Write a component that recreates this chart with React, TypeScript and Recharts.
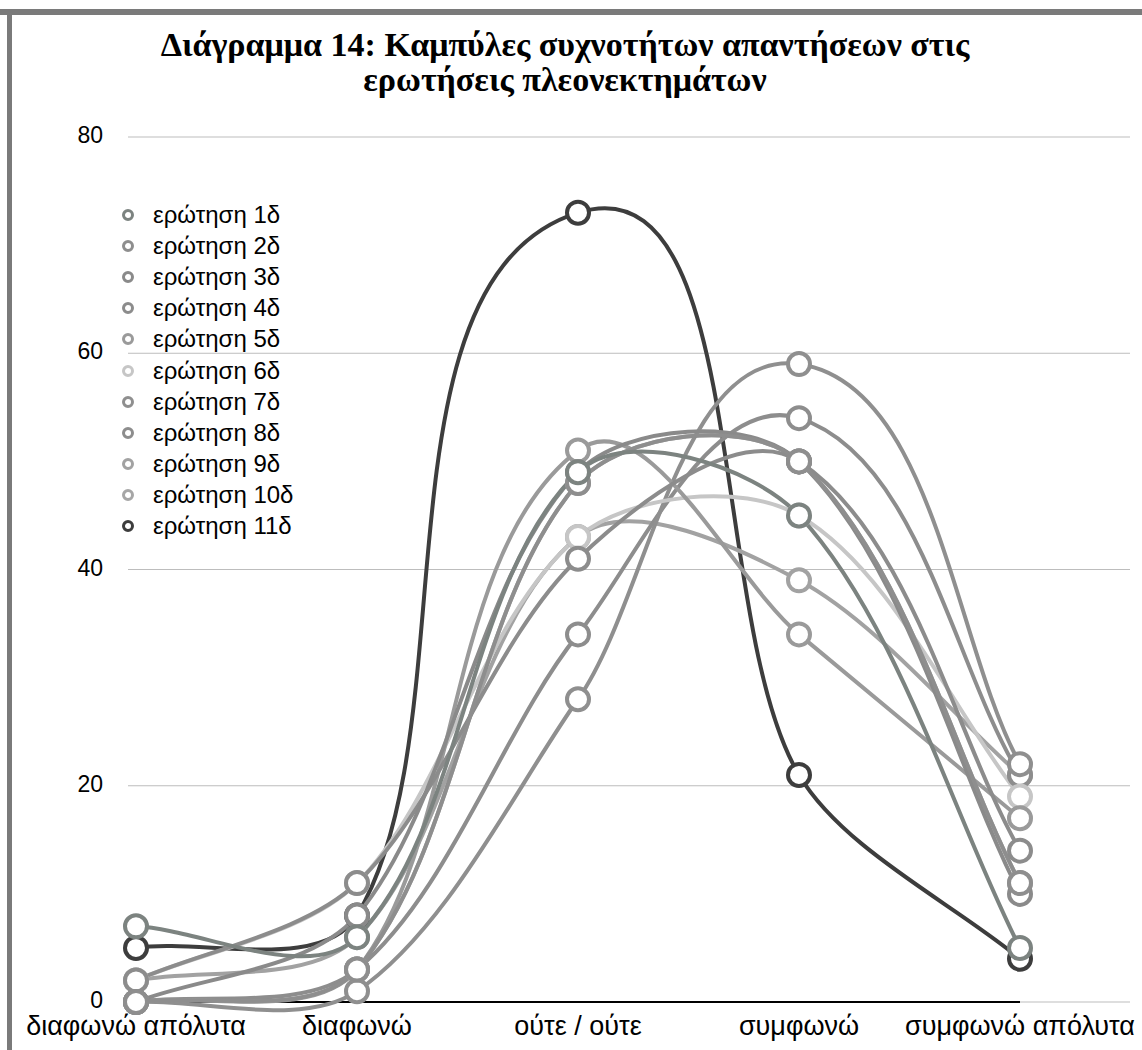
import React from "react";
import {
  LineChart,
  Line,
  XAxis,
  YAxis,
  CartesianGrid,
  ReferenceLine,
} from "recharts";

const categories = [
  "διαφωνώ απόλυτα",
  "διαφωνώ",
  "ούτε / ούτε",
  "συμφωνώ",
  "συμφωνώ απόλυτα",
];

const q1 = [7, 6, 49, 45, 5];
const q2 = [0, 3, 48, 50, 11];
const q3 = [0, 8, 49, 50, 10];
const q4 = [2, 11, 41, 50, 14];
const q5 = [0, 3, 51, 34, 17];
const q6 = [2, 11, 43, 45, 19];
const q7 = [0, 1, 28, 59, 22];
const q8 = [0, 3, 34, 54, 21];
const q9 = [2, 6, 43, 39, 21];
const q10 = [0, 3, 48, 50, 11];
const q11 = [5, 8, 73, 21, 4];

const yTicks = [0, 20, 40, 60, 80];

const series = [
  { key: "q1", name: "ερώτηση 1δ", values: q1, color: "#7c8380" },
  { key: "q2", name: "ερώτηση 2δ", values: q2, color: "#8e8e8e" },
  { key: "q3", name: "ερώτηση 3δ", values: q3, color: "#8a8a8a" },
  { key: "q4", name: "ερώτηση 4δ", values: q4, color: "#8c8c8c" },
  { key: "q5", name: "ερώτηση 5δ", values: q5, color: "#9a9a9a" },
  { key: "q6", name: "ερώτηση 6δ", values: q6, color: "#c6c6c6" },
  { key: "q7", name: "ερώτηση 7δ", values: q7, color: "#8f8f8f" },
  { key: "q8", name: "ερώτηση 8δ", values: q8, color: "#8d8d8d" },
  { key: "q9", name: "ερώτηση 9δ", values: q9, color: "#a2a2a2" },
  { key: "q10", name: "ερώτηση 10δ", values: q10, color: "#a6a6a6" },
  { key: "q11", name: "ερώτηση 11δ", values: q11, color: "#3d3d3d" },
];

const chartData = categories.map((name, i) => {
  const row: any = { name };
  series.forEach((s) => {
    row[s.key] = s.values[i];
  });
  return row;
});

// smooth curve: tangent direction from neighbours, length tied to segment length
const K = 0.3;
const smoothCurve: any = (context: any) => {
  let pts: number[][] = [];
  return {
    areaStart() {},
    areaEnd() {},
    lineStart() {
      pts = [];
    },
    point(x: number, y: number) {
      pts.push([+x, +y]);
    },
    lineEnd() {
      const n = pts.length;
      if (!n) return;
      const dirs = pts.map((p, i) => {
        const a = pts[i - 1] || p;
        const b = pts[i + 1] || p;
        const dx = b[0] - a[0];
        const dy = b[1] - a[1];
        const len = Math.hypot(dx, dy) || 1;
        return [dx / len, dy / len];
      });
      context.moveTo(pts[0][0], pts[0][1]);
      for (let i = 0; i < n - 1; i++) {
        const p1 = pts[i];
        const p2 = pts[i + 1];
        const L = Math.hypot(p2[0] - p1[0], p2[1] - p1[1]) * K;
        context.bezierCurveTo(
          p1[0] + dirs[i][0] * L,
          p1[1] + dirs[i][1] * L,
          p2[0] - dirs[i + 1][0] * L,
          p2[1] - dirs[i + 1][1] * L,
          p2[0],
          p2[1]
        );
      }
    },
  };
};

const font = "'Liberation Sans', Arial, Helvetica, sans-serif";

const LegendBox = () => (
  <div
    style={{
      position: "absolute",
      left: 120,
      top: 199,
      fontFamily: font,
      fontSize: 24,
      color: "#000",
    }}
  >
    {series.map((s) => (
      <div
        key={s.key}
        style={{ height: 31.2, display: "flex", alignItems: "center" }}
      >
        <svg width={26} height={16} style={{ marginRight: 7 }}>
          <circle
            cx={8}
            cy={8}
            r={4.5}
            fill="#fff"
            stroke={s.color}
            strokeWidth={3}
          />
        </svg>
        <span>{s.name}</span>
      </div>
    ))}
  </div>
);

const App = () => {
  const xTick = { fill: "#000", fontSize: 27, fontFamily: font };
  const yTick = { fill: "#000", fontSize: 23, fontFamily: font, dy: -2 };

  return (
    <div
      style={{
        position: "absolute",
        left: 0,
        top: 0,
        width: 1142,
        height: 1050,
        background: "#fff",
        overflow: "hidden",
      }}
    >
      {/* frame */}
      <div
        style={{
          position: "absolute",
          left: 0,
          top: 9,
          width: 1142,
          height: 6,
          background: "#7a7a7a",
        }}
      />
      <div
        style={{
          position: "absolute",
          left: 7,
          top: 9,
          width: 5,
          height: 1041,
          background: "#7a7a7a",
        }}
      />
      <div
        style={{
          position: "absolute",
          left: 0,
          top: 27,
          width: 1130,
          textAlign: "center",
          fontFamily: "'Liberation Serif', 'Times New Roman', serif",
          fontWeight: "bold",
          fontSize: 34,
          lineHeight: "35px",
          color: "#000",
        }}
      >
        Διάγραμμα 14: Καμπύλες συχνοτήτων απαντήσεων στις
        <br />
        ερωτήσεις πλεονεκτημάτων
      </div>
      <LineChart
        width={1142}
        height={1050}
        data={chartData}
        margin={{ top: 137, right: 12, left: 0, bottom: 0 }}
        style={{ position: "absolute", left: 0, top: 0 }}
      >
        <CartesianGrid vertical={false} stroke="#bdbdbd" strokeWidth={1} />
        <XAxis
          dataKey="name"
          axisLine={false}
          tickLine={false}
          tick={xTick}
          tickMargin={8}
          height={48}
          interval={0}
          padding={{ left: 8, right: 110 }}
        />
        <YAxis
          domain={[0, 80]}
          ticks={yTicks}
          axisLine={false}
          tickLine={false}
          tick={yTick}
          tickMargin={19}
          width={128}
        />
        <ReferenceLine
          segment={[
            { x: categories[0], y: 0 },
            { x: categories[categories.length - 1], y: 0 },
          ]}
          stroke="#000"
          strokeWidth={2}
          ifOverflow="visible"
        />
        {[...series].reverse().map((s) => (
          <Line
            key={s.key}
            dataKey={s.key}
            name={s.name}
            type={smoothCurve}
            stroke={s.color}
            strokeWidth={4}
            dot={{ r: 11, fill: "#fff", stroke: s.color, strokeWidth: 4 }}
            activeDot={false}
            isAnimationActive={false}
          />
        ))}
      </LineChart>
      <LegendBox />
    </div>
  );
};

export default App;
